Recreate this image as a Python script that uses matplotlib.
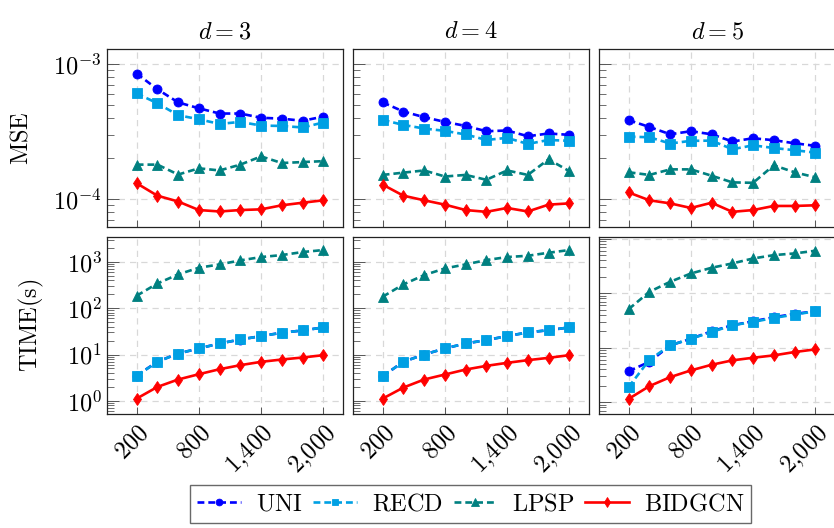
import matplotlib
matplotlib.use("Agg")
import matplotlib.pyplot as plt
import numpy as np
from matplotlib.ticker import LogLocator, NullFormatter

plt.rcParams['mathtext.fontset'] = 'cm'
plt.rcParams['font.family'] = 'DejaVu Serif'

# data
x = [200, 400, 600, 800, 1000, 1200, 1400, 1600, 1800, 2000]
dims = [3, 4, 5]
methods = ['UNI', 'RECD', 'LPSP', 'BIDGCN']

mse_uni = [
    [8.5e-4, 6.5e-4, 5.2e-4, 4.7e-4, 4.3e-4, 4.3e-4, 4.0e-4, 3.94e-4, 3.8e-4, 4.08e-4],
    [5.2e-4, 4.45e-4, 4.04e-4, 3.73e-4, 3.48e-4, 3.18e-4, 3.22e-4, 2.92e-4, 3.06e-4, 2.99e-4],
    [3.84e-4, 3.42e-4, 3.02e-4, 3.18e-4, 3.02e-4, 2.67e-4, 2.82e-4, 2.73e-4, 2.59e-4, 2.48e-4],
]
mse_recd = [
    [6.06e-4, 5.12e-4, 4.18e-4, 3.9e-4, 3.6e-4, 3.73e-4, 3.5e-4, 3.48e-4, 3.39e-4, 3.69e-4],
    [3.86e-4, 3.54e-4, 3.33e-4, 3.2e-4, 3.01e-4, 2.74e-4, 2.84e-4, 2.56e-4, 2.74e-4, 2.7e-4],
    [2.9e-4, 2.87e-4, 2.58e-4, 2.7e-4, 2.71e-4, 2.34e-4, 2.5e-4, 2.39e-4, 2.3e-4, 2.21e-4],
]
mse_lpsp = [
    [1.8e-4, 1.8e-4, 1.52e-4, 1.69e-4, 1.63e-4, 1.8e-4, 2.07e-4, 1.85e-4, 1.88e-4, 1.91e-4],
    [1.51e-4, 1.57e-4, 1.63e-4, 1.47e-4, 1.51e-4, 1.39e-4, 1.63e-4, 1.51e-4, 1.97e-4, 1.61e-4],
    [1.58e-4, 1.51e-4, 1.66e-4, 1.66e-4, 1.49e-4, 1.33e-4, 1.32e-4, 1.78e-4, 1.58e-4, 1.45e-4],
]
mse_bid = [
    [1.31e-4, 1.06e-4, 9.6e-5, 8.3e-5, 8.1e-5, 8.3e-5, 8.4e-5, 9.0e-5, 9.4e-5, 9.8e-5],
    [1.28e-4, 1.06e-4, 9.8e-5, 9.1e-5, 8.3e-5, 8.05e-5, 8.6e-5, 8.1e-5, 9.1e-5, 9.3e-5],
    [1.12e-4, 9.8e-5, 9.3e-5, 8.6e-5, 9.4e-5, 8.05e-5, 8.3e-5, 8.9e-5, 8.9e-5, 9.0e-5],
]

time_uni = [
    [3.5, 7.0, 10.5, 13.5, 17.3, 21.0, 25.0, 29.5, 33.0, 38.3],
    [3.4, 7.0, 10.0, 13.5, 17.3, 20.4, 25.0, 29.9, 33.5, 38.3],
    [3.7, 5.5, 11.0, 14.6, 20.0, 25.8, 30.5, 36.2, 41.7, 46.6],
]
time_recd = [
    [3.47, 6.95, 10.5, 13.5, 17.3, 21.1, 24.9, 29.4, 33.0, 38.3],
    [3.43, 6.95, 10.0, 13.5, 17.3, 20.4, 24.9, 29.9, 33.5, 38.3],
    [1.9, 6.0, 11.0, 14.6, 19.4, 25.8, 29.7, 35.2, 40.5, 46.6],
]
time_lpsp = [
    [185, 340, 533, 743, 876, 1069, 1262, 1393, 1618, 1787],
    [176, 325, 515, 718, 876, 1086, 1262, 1346, 1563, 1787],
    [51, 106, 162, 230, 293, 352, 434, 500, 537, 601],
]
time_bid = [
    [1.12, 2.0, 2.89, 3.76, 4.82, 5.89, 6.95, 7.8, 8.61, 9.68],
    [1.12, 1.94, 2.89, 3.7, 4.74, 5.69, 6.61, 7.55, 8.47, 9.68],
    [1.15, 1.97, 2.88, 3.83, 4.86, 5.85, 6.54, 7.22, 8.32, 9.31],
]

mse = [mse_uni, mse_recd, mse_lpsp, mse_bid]
times = [time_uni, time_recd, time_lpsp, time_bid]

colors = ['#0000FF', '#00A0E3', '#008080', '#FF0000']
markers = ['o', 's', '^', 'd']
dashed = [True, True, True, False]
msizes = [6.5, 6.5, 7, 6.5]

fig = plt.figure(figsize=(8.34, 5.28), dpi=100)
W, H = 834.0, 528.0
col_left = [106.7, 352.7, 598.7]
col_w = 236.6
row_top = [49.3, 236.7]
row_h = 177.2

mse_lim = (6.27e-5, 1.285e-3)
time_lims = [(0.524, 3467), (0.524, 3467), (0.609, 1089)]

handles = []
for r in range(2):
    for c in range(3):
        ax = fig.add_axes([col_left[c] / W, 1 - (row_top[r] + row_h) / H, col_w / W, row_h / H])
        data = mse if r == 0 else times
        for k in range(4):
            ln, = ax.plot(x, data[k][c], color=colors[k], marker=markers[k],
                          ms=msizes[k], lw=1.9, label=r'$\mathrm{%s}$' % methods[k],
                          markeredgewidth=0.6)
            if dashed[k]:
                ln.set_dashes((2.6, 1.5))
            if r == 0 and c == 0:
                handles.append(ln)
        ax.set_yscale('log')
        ax.set_xlim(-89, 2193)
        if r == 0:
            ax.set_ylim(*mse_lim)
            yt = [1e-4, 1e-3]
            ylab = [r'$10^{-4}$', r'$10^{-3}$']
        else:
            ax.set_ylim(*time_lims[c])
            yt = [1, 10, 100, 1000]
            ylab = [r'$10^{0}$', r'$10^{1}$', r'$10^{2}$', r'$10^{3}$']
        ax.set_yticks(yt)
        ax.yaxis.set_minor_locator(LogLocator(base=10, subs=np.arange(2, 10)))
        ax.yaxis.set_minor_formatter(NullFormatter())
        if c == 0:
            ax.set_yticklabels(ylab, fontsize=17.5)
        else:
            ax.set_yticklabels([])
        ax.set_xticks([200, 800, 1400, 2000])
        if r == 1:
            ax.set_xticklabels([r'$200$', r'$800$', r'$1{,}400$', r'$2{,}000$'],
                               fontsize=17.5, rotation=45, ha='right', rotation_mode='anchor')
        else:
            ax.set_xticklabels([])
        ax.tick_params(axis='both', which='both', direction='in', top=False, right=False)
        ax.tick_params(axis='y', which='major', length=8.5, width=0.7, color='#555555')
        ax.tick_params(axis='y', which='minor', length=5, width=0.6, color='#555555')
        ax.tick_params(axis='x', which='major', length=5, width=0.7, color='#555555', pad=5)
        ax.grid(True, which='major', color='#d8d8d8', lw=0.9, dashes=(5, 4))
        ax.set_axisbelow(True)
        for s in ax.spines.values():
            s.set_linewidth(0.9)
            s.set_color('#222222')
        if r == 0:
            ax.set_title(r'$d = %d$' % dims[c], fontsize=17.5, pad=8)
        if c == 0:
            ax.set_ylabel(r'$\mathrm{MSE}$' if r == 0 else r'$\mathrm{TIME(s)}$',
                          fontsize=17.5, labelpad=15)

fig.legend(handles=handles, loc='center', bbox_to_anchor=(0.5644, 0.0455), ncol=4,
           fontsize=17.5, frameon=True, fancybox=False, edgecolor='#444444',
           handlelength=1.8, handletextpad=0.6, columnspacing=0.45, borderpad=0.3,
           borderaxespad=0, markerscale=0.75)

fig.savefig('out.png', dpi=100)
